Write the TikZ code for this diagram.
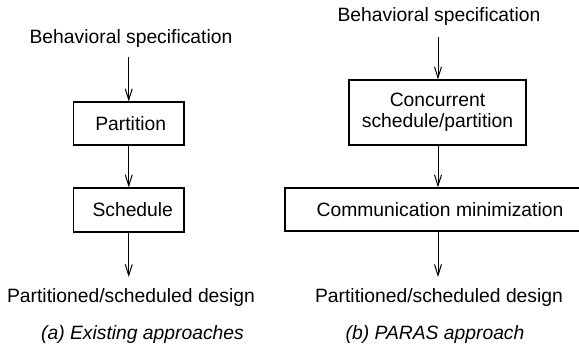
\documentclass[tikz,border=0pt]{standalone}
\usepackage{fontspec}
\setmainfont{Liberation Sans}
\usetikzlibrary{arrows.meta}
\begin{document}
\begin{tikzpicture}[x=1pt,y=-1pt,
  every node/.style={font=\fontsize{19.3}{21}\selectfont, inner sep=0pt},
  box/.style={draw, line width=1.2pt, rectangle, align=center},
  lbl/.style={anchor=center},
  arr/.style={line width=1pt, -{Straight Barb[length=11pt,width=7pt,line width=1pt]}}]
\useasboundingbox (0,0) rectangle (579,356);
% left
\node[lbl] (bs1) at (131,39) {Behavioral specification};
\node[box, minimum width=110.5pt, minimum height=43pt] (part) at (128.75,123.5) {\hspace*{4pt}Partition};
\node[box, minimum width=110.5pt, minimum height=44pt] (sched) at (128.75,210) {\hspace*{8pt}Schedule};
\node[lbl] (pd1) at (131,298) {Partitioned/scheduled design};
\node[lbl] (cap1) at (142.5,335) {\itshape (a) Existing approaches};
\draw[arr, shorten <=9pt] (part.north |- bs1.south) -- (part.north);
\draw[arr] (part.south) -- (sched.north);
\coordinate (e1) at (128.75,277);
\draw[arr] (sched.south) -- (e1);
% right
\node[lbl] (bs2) at (439,17) {Behavioral specification};
\node[box, minimum width=177pt, minimum height=65pt] (conc) at (437.5,112.5) {Concurrent\\schedule/partition};
\node[box, minimum width=310pt, minimum height=43pt] (comm) at (440,209.5) {Communication minimization};
\node[lbl] (pd2) at (439,298) {Partitioned/scheduled design};
\node[lbl] (cap2) at (435,335) {\itshape (b) PARAS approach};
\coordinate (s2) at (438,37);
\draw[arr] (s2) -- (s2 |- conc.north);
\draw[arr] (s2 |- conc.south) -- (s2 |- comm.north);
\coordinate (e2) at (438,277);
\draw[arr] (s2 |- comm.south) -- (e2);
\end{tikzpicture}
\end{document}
